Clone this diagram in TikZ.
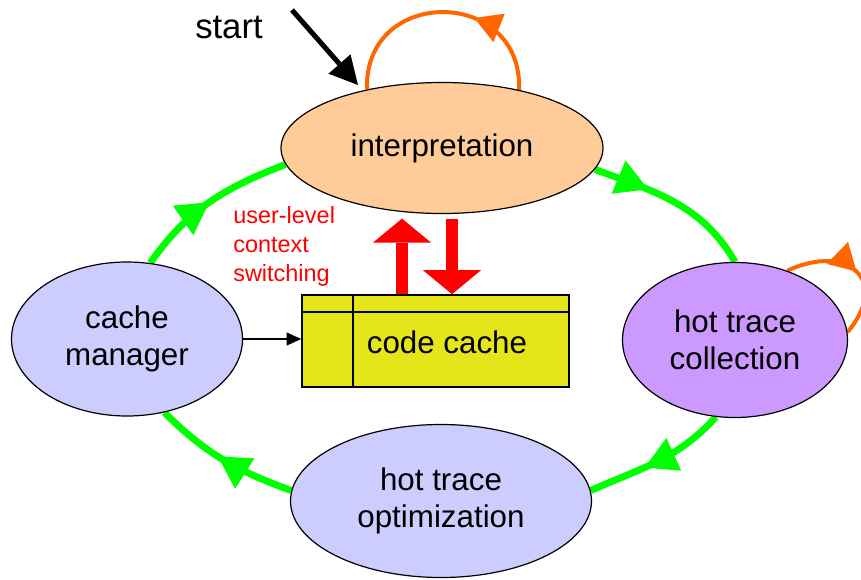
\documentclass[tikz,border=0pt]{standalone}
\usepackage{fontspec}
\setmainfont{Liberation Sans}
\usetikzlibrary{shapes.geometric, arrows.meta, decorations.markings, calc}
\definecolor{peach}{HTML}{FFCC99}
\definecolor{lilac}{HTML}{CC99FF}
\definecolor{lavender}{HTML}{CCCCFF}
\definecolor{cacheyellow}{HTML}{E5E619}
\definecolor{flowgreen}{HTML}{00FF00}
\definecolor{looporange}{HTML}{FF6600}
\pgfdeclarelayer{background}
\pgfsetlayers{background,main}
\tikzset{
  stateell/.style={ellipse, draw=black, line width=0.9pt, inner sep=0pt, align=center,
    font=\fontsize{23.5}{28}\selectfont},
  greenflow/.style={draw=flowgreen, line width=5.2pt, postaction={decorate},
    decoration={markings, mark=at position #1 with {\arrow{Triangle[length=24pt,width=27pt,line width=0pt]}}}},
  selfloop/.style={draw=looporange, line width=3pt, postaction={decorate},
    decoration={markings, mark=at position #1 with {\arrow{Triangle[length=20pt,width=23pt,line width=0pt]}}}},
  redarrow/.style={draw=red, line width=9pt, -{Triangle[length=18pt,width=43.5pt,line width=0pt]}},
  thinline/.style={line width=1.2pt, draw=black},
}
\begin{document}
\begin{tikzpicture}[x=0.75pt,y=0.75pt]
\useasboundingbox (0,0) rectangle (861,-579);
% state ellipses
\node[stateell, fill=peach, minimum width=241.5pt, minimum height=98.25pt] (interp) at (442,-148) {interpretation};
\node[stateell, fill=lilac, minimum width=168.75pt, minimum height=116.25pt] (coll) at (735,-340) {hot trace\\collection};
\node[stateell, fill=lavender, minimum width=173.25pt, minimum height=115.5pt] (cm) at (127,-339) {cache\\manager};
\node[stateell, fill=lavender, minimum width=225.75pt, minimum height=114.75pt] (opt) at (441,-501) {hot trace\\optimization};
% code cache
\node[draw=black, fill=cacheyellow, line width=1.2pt, minimum width=200.25pt, minimum height=69pt, inner sep=0pt] (cc) at (435.5,-341) {};
\draw[thinline] ($(cc.north west)+(0,-18)$) -- ($(cc.north east)+(0,-18)$);
\draw[thinline] ($(cc.north west)+(52,0)$) -- ($(cc.south west)+(52,0)$);
\node[font=\fontsize{23.5}{28}\selectfont, anchor=base, inner sep=0pt] (cctext) at (447,-353) {code cache};
% red context switch arrows
\coordinate (upx) at (402,0);
\coordinate (dnx) at (452,0);
\draw[redarrow] (upx |- cc.north) -- ($(upx |- interp.south)+(0,-4.5)$);
\draw[redarrow] ($(dnx |- interp.south)+(0,-4.5)$) -- (dnx |- cc.north);
\node[text=red, font=\fontsize{17.6}{21.75}\selectfont, align=left, anchor=north west, inner sep=0pt] (ctx) at (233,-206) {user-level\\context\\switching};
% start
\node[font=\fontsize{26}{30}\selectfont, anchor=base west, inner sep=0pt] (start) at (195,-38) {start};
\coordinate (s0) at (292,-10);
\coordinate (s1) at (358,-85);
\draw[line width=3.75pt, -{Triangle[length=21pt,width=22pt,line width=0pt]}] (s0) -- (s1);
% cache manager -> code cache
\draw[thinline, -{Triangle[length=11pt,width=10pt,line width=0pt]}] (cm.east) -- (cm.east -| cc.west);
% cycle and self loops
\begin{pgfonlayer}{background}
\draw[greenflow=0.33] (interp.-8) to[out=-20,in=120] (coll.north);
\draw[greenflow=0.6] (coll.-104) to[out=-132,in=24] (opt.4);
\draw[greenflow=0.54] (opt.176) to[out=160,in=-45] (cm.-63);
\draw[greenflow=0.5] (cm.73) to[out=55,in=201] (interp.186);
\draw[selfloop=0.37] (interp.37) to[out=88,in=92,looseness=1.74] (interp.142);
\draw[selfloop=0.52] (coll.53) to[out=25,in=50,looseness=2] (coll.4);
\end{pgfonlayer}
\end{tikzpicture}
\end{document}
